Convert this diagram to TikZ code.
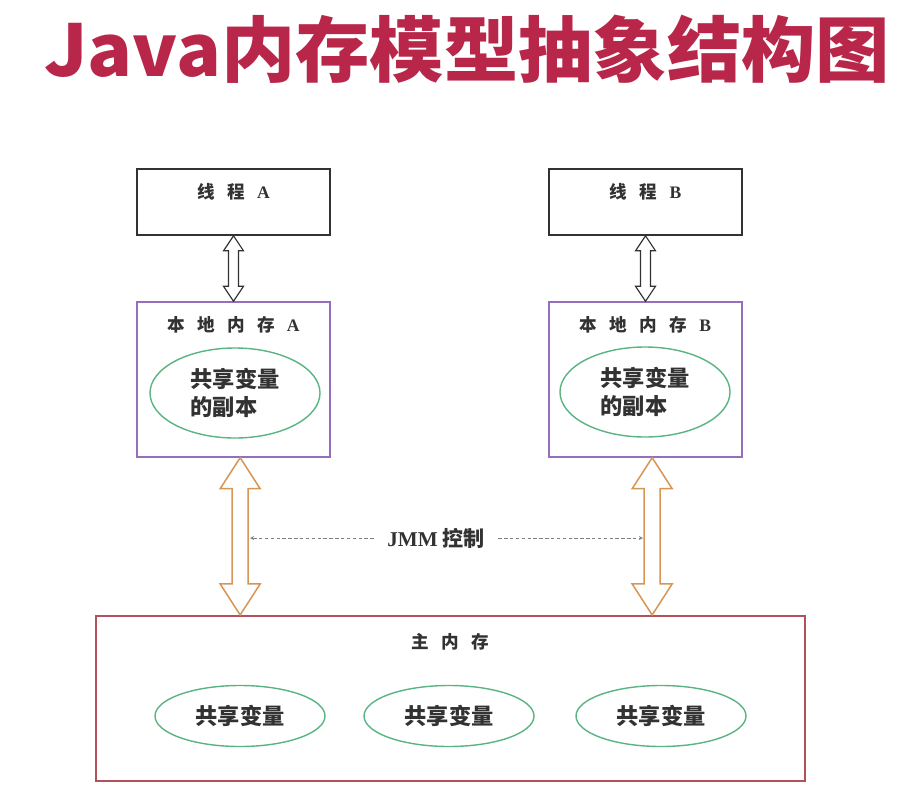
\documentclass[tikz,border=0pt]{standalone}
\usepackage{fontspec}
\setmainfont{Liberation Serif}
\newfontfamily\cjk{Noto Sans CJK SC}
\usepackage{tikz}
\usetikzlibrary{positioning, arrows, shapes, calc}

\definecolor{titlered}{RGB}{184,38,74}
\definecolor{boxpurple}{RGB}{150,110,190}
\definecolor{ovalgreen}{RGB}{90,180,130}
\definecolor{mainred}{RGB}{180,80,90}
\definecolor{pipeorange}{RGB}{215,150,85}
\definecolor{inkgray}{RGB}{50,50,50}

\newcommand{\gap}{\hspace{0.7em}}

\tikzset{Title style/.style={font=\cjk\bfseries\fontsize{61}{64}\selectfont, text=titlered, inner sep=0pt, xscale=1.04, transform shape}}
\tikzset{Label style/.style={font=\cjk\bfseries\fontsize{15}{18}\selectfont, text=inkgray, inner sep=0pt}}
\tikzset{Thread style/.style={draw=inkgray, line width=1.4pt, minimum width=57.9mm, minimum height=19.8mm}}
\tikzset{Local style/.style={draw=boxpurple, line width=1.2pt, minimum width=57.9mm, minimum height=46.5mm}}
\tikzset{Main style/.style={draw=mainred, line width=1.8pt, minimum width=212.7mm, minimum height=49.5mm}}
\tikzset{Copy style/.style={ellipse, draw=ovalgreen, line width=1.2pt, minimum width=51mm, minimum height=27mm,
	align=left, text=inkgray, font=\cjk\bfseries\fontsize{19}{24}\selectfont}}
\tikzset{Var style/.style={Copy style, minimum height=18.3mm}}
\tikzset{
	Fat arrow/.style n args={4}{to path={let \p1=($(\tikztostart)+(#4,0)$), \p2=(\tikztotarget) in
		(\x1,\y1) -- (\x1+#1,\y1-#3) -- (\x1+#2,\y1-#3) -- (\x1+#2,\y2+#3) -- (\x1+#1,\y2+#3)
		-- (\x1,\y2) -- (\x1-#1,\y2+#3) -- (\x1-#2,\y2+#3) -- (\x1-#2,\y1-#3) -- (\x1-#1,\y1-#3) -- cycle}},
	Swap style/.style={draw=inkgray, line width=1pt, fill=white, Fat arrow={3mm}{1.5mm}{4.5mm}{0mm}}, % flecha hueca corta
	Pipe style/.style={draw=pipeorange, line width=1.3pt, fill=white, Fat arrow={6mm}{2.4mm}{9.3mm}{2mm}}, % flecha hueca larga
	Ctrl style/.style={->, >=stealth, densely dashed, draw=gray, line width=0.6pt},
}

\begin{document}
\begin{tikzpicture}[x=0.3mm, y=-0.3mm]
	\useasboundingbox (0,0) rectangle (906,799);
	\node[Title style] (title) at (467,49) {Java内存模型抽象结构图};

	\node[Thread style] (thA) at (233.5,202) {};
	\node[Thread style] (thB) at (645.5,202) {};
	\node[Label style, below=4.5mm of thA.north] (thAtxt) {线\gap 程\gap{\rmfamily A}};
	\node[Label style, below=4.5mm of thB.north] (thBtxt) {线\gap 程\gap{\rmfamily B}};

	\node[Local style] (lmA) at (233.5,379.5) {};
	\node[Local style] (lmB) at (645.5,379.5) {};
	\node[Label style, below=4.5mm of lmA.north] (lmAtxt) {本\gap 地\gap 内\gap 存\gap{\rmfamily A}};
	\node[Label style, below=4.5mm of lmB.north] (lmBtxt) {本\gap 地\gap 内\gap 存\gap{\rmfamily B}};
	\node[Copy style] (cpA) at (235,393) {共享变量\\的副本};
	\node[Copy style] (cpB) at (645,392) {共享变量\\的副本};

	\node[Main style] (mm) at (450.5,698.5) {};
	\node[Label style, below=5.5mm of mm.north] (mmtxt) {主\gap 内\gap 存};
	\node[Var style] (varA) at (240,716) {共享变量};
	\node[Var style] (varB) at (449,716) {共享变量};
	\node[Var style] (varC) at (661,716) {共享变量};

	\draw[Swap style] (thA.south) to (lmA.north);
	\draw[Swap style] (thB.south) to (lmB.north);
	\draw[Pipe style] (lmA.south) to (mm.north);
	\draw[Pipe style] (lmB.south) to (mm.north);

	\node[Label style, font=\cjk\bfseries\fontsize{18}{20}\selectfont, inner xsep=4mm] (jmm) at (436,538) {{\rmfamily JMM} 控制};
	\coordinate (jmmL) at (250,538);
	\coordinate (jmmR) at (643,538);
	\draw[Ctrl style] (jmm) -- (jmmL);
	\draw[Ctrl style] (jmm) -- (jmmR);
\end{tikzpicture}
\end{document}
